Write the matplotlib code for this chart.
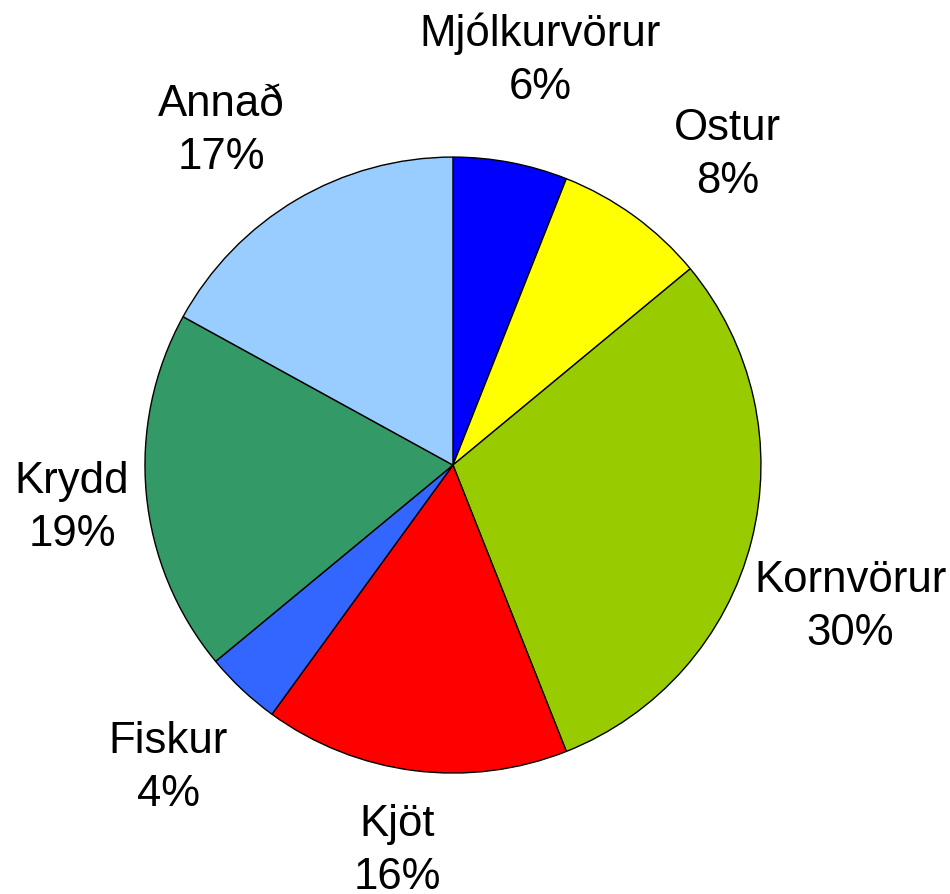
import matplotlib
matplotlib.use('Agg')
import numpy as np
import matplotlib.pyplot as plt

categories = ['Mjólkurvörur', 'Ostur', 'Kornvörur', 'Kjöt', 'Fiskur', 'Krydd', 'Annað']
shares = [6, 8, 30, 16, 4, 19, 17]
colors = ['#0000FF', '#FFFF00', '#99CC00', '#FF0000', '#3366FF', '#339966', '#99CCFF']

# label placement (radius in pie radii, angular nudge in degrees, + = clockwise)
label_r = [1.345, 1.345, 1.37, 1.265, 1.35, 1.245, 1.32]
label_nudge = [1.3, 5.5, 5.3, 1.0, 0.0, -1.0, -4.2]

plt.rcParams['font.family'] = ['Liberation Sans', 'DejaVu Sans']

fig = plt.figure(figsize=(9.5, 8.94), dpi=100)
ax = fig.add_axes([0.1526, 0.1353, 0.6484, 0.689])

wedges, _ = ax.pie(shares, colors=colors, startangle=90, counterclock=False,
                   wedgeprops=dict(edgecolor='black', linewidth=1))

for w, c, v, r, d in zip(wedges, categories, shares, label_r, label_nudge):
    ang = np.deg2rad((w.theta1 + w.theta2) / 2 - d)
    ax.text(r * np.cos(ang), r * np.sin(ang), f'{c}\n{v}%', fontsize=31.5,
            ha='center', va='center', linespacing=1.38, clip_on=False)

ax.set_xlim(-1, 1)
ax.set_ylim(-1, 1)
ax.set_aspect('auto')
ax.axis('off')

fig.savefig('out.png', dpi=100)
